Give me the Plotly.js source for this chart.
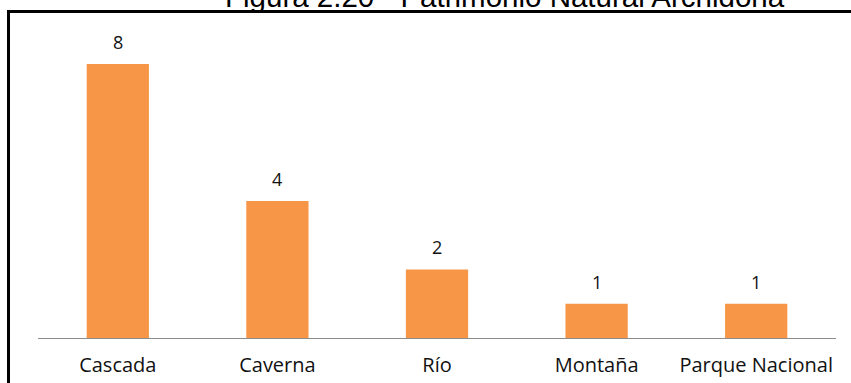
<!DOCTYPE html>
<html>
<head>
<meta charset="utf-8">
<script src="https://cdn.plot.ly/plotly-3.0.1.min.js"></script>
<style>html,body{margin:0;padding:0;background:#fff;}#chart{width:851px;height:383px;}</style>
</head>
<body>
<div id="chart"></div>
<script>
const categories = ["Cascada", "Caverna", "Río", "Montaña", "Parque Nacional"];
const values = [8, 4, 2, 1, 1];
const titleText = "Figura 2.20 - Patrimonio Natural Archidona";

const W = 851, H = 383;
const mL = 38, mR = 15, mT = 40, mB = 45;
const pw = W - mL - mR, ph = H - mT - mB;
const px = x => (x - mL) / pw;
const py = y => (H - mB - y) / ph;

const annotations = values.map((v, i) => ({
  x: categories[i], y: v, xref: 'x', yref: 'y',
  text: String(v), showarrow: false, yanchor: 'bottom', yshift: 8,
  font: {family: 'Open Sans, Noto Sans, sans-serif', size: 18, color: '#111'}
}));
annotations.push({
  x: px(505), y: py(-4), xref: 'paper', yref: 'paper',
  text: titleText, showarrow: false, xanchor: 'center', yanchor: 'middle',
  font: {family: 'Liberation Sans, Arial, sans-serif', size: 29.5, color: '#000'}
});

const layout = {
  width: W, height: H,
  margin: {l: mL, r: mR, t: mT, b: mB, pad: 0},
  paper_bgcolor: '#fff', plot_bgcolor: '#fff',
  showlegend: false,
  bargap: 0.61,
  xaxis: {
    type: 'category', range: [-0.5, 4.5],
    showline: true, linecolor: '#8c8c8c', linewidth: 1,
    ticks: '', showgrid: false, zeroline: false,
    tickfont: {family: 'Open Sans, Noto Sans, sans-serif', size: 20, color: '#111'},
    ticklabelstandoff: 9
  },
  yaxis: {
    range: [0, 8.7], visible: false, showgrid: false, zeroline: false
  },
  annotations: annotations,
  shapes: [
    {type: 'line', xref: 'paper', yref: 'paper', x0: px(8.5), x1: px(8.5), y0: py(10), y1: py(400),
     line: {color: '#000', width: 3}},
    {type: 'line', xref: 'paper', yref: 'paper', x0: px(7), x1: px(870), y0: py(11.5), y1: py(11.5),
     line: {color: '#000', width: 3}}
  ]
};

Plotly.newPlot('chart', [{
  type: 'bar', x: categories, y: values,
  marker: {color: '#F79646', line: {width: 0}},
  hoverinfo: 'none'
}], layout, {displayModeBar: false, staticPlot: true});
</script>
</body>
</html>
